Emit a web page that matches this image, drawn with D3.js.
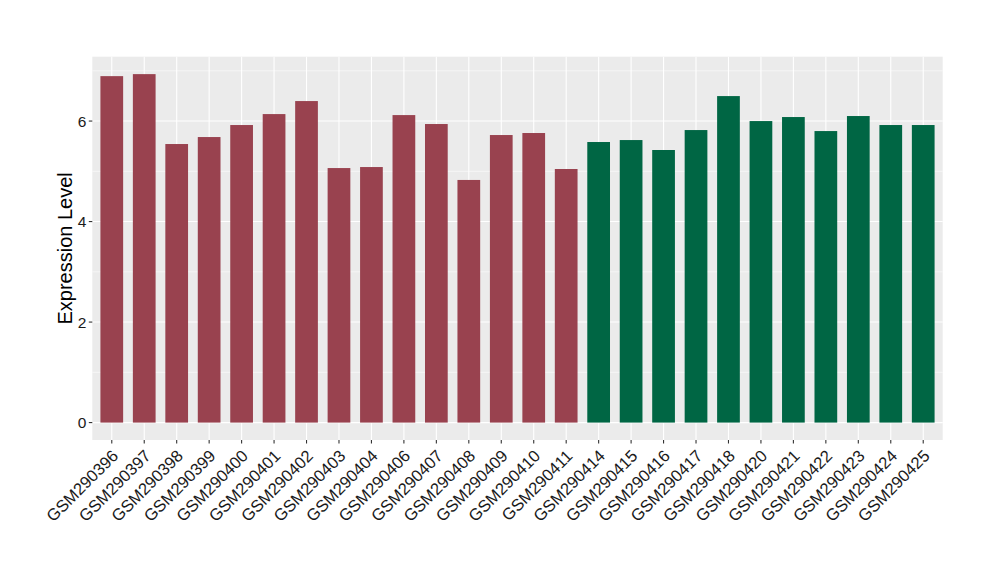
<!DOCTYPE html>
<html><head><meta charset="utf-8">
<script src="https://cdn.jsdelivr.net/npm/d3@7"></script>
<style>body{margin:0;background:#fff;} text{font-family:"Liberation Sans",Arial,sans-serif;}</style>
</head><body>
<svg id="c" width="1000" height="580"></svg>
<script>
const samples = ["GSM290396","GSM290397","GSM290398","GSM290399","GSM290400","GSM290401","GSM290402","GSM290403","GSM290404","GSM290406","GSM290407","GSM290408","GSM290409","GSM290410","GSM290411","GSM290414","GSM290415","GSM290416","GSM290417","GSM290418","GSM290420","GSM290421","GSM290422","GSM290423","GSM290424","GSM290425"];
const values = [6.894,6.934,5.543,5.682,5.921,6.139,6.398,5.065,5.085,6.119,5.941,4.828,5.722,5.762,5.046,5.583,5.622,5.424,5.821,6.497,6.000,6.080,5.801,6.100,5.921,5.921];
const groups = ["A","A","A","A","A","A","A","A","A","A","A","A","A","A","A","B","B","B","B","B","B","B","B","B","B","B"];
const groupColors = {A:"#99424F", B:"#006644"};
const yTicks = [0,2,4,6];
const yMinor = [1,3,5,7];

const svg = d3.select("#c");
const L = 92.3, R = 942.7, T = 56.7, B = 440;
const maxV = d3.max(values);
const y = d3.scaleLinear().domain([-0.05*maxV, maxV*1.05]).range([B, T]);
const n = samples.length;
const x = d3.scaleLinear().domain([0.4, n+0.6]).range([L, R]);
const xc = i => x(i+1);

svg.append("rect").attr("x",L).attr("y",T).attr("width",R-L).attr("height",B-T).attr("fill","#EBEBEB");
const g = svg.append("g");
g.selectAll(".ymin").data(yMinor).join("line")
  .attr("x1",L).attr("x2",R).attr("y1",d=>y(d)).attr("y2",d=>y(d))
  .attr("stroke","#fff").attr("stroke-width",0.55);
g.selectAll(".ymaj").data(yTicks).join("line")
  .attr("x1",L).attr("x2",R).attr("y1",d=>y(d)).attr("y2",d=>y(d))
  .attr("stroke","#fff").attr("stroke-width",1.1);
g.selectAll(".xmaj").data(samples).join("line")
  .attr("x1",(d,i)=>xc(i)).attr("x2",(d,i)=>xc(i)).attr("y1",T).attr("y2",B)
  .attr("stroke","#fff").attr("stroke-width",1.1);

const bw = 0.7*(x(2)-x(1));
svg.selectAll(".bar").data(values).join("rect")
  .attr("x",(d,i)=>xc(i)-bw/2).attr("width",bw)
  .attr("y",d=>y(d)).attr("height",d=>y(0)-y(d))
  .attr("fill",(d,i)=>groupColors[groups[i]]);

// y axis
const ya = svg.append("g");
ya.selectAll("line").data(yTicks).join("line")
  .attr("x1",L-3.5).attr("x2",L).attr("y1",d=>y(d)).attr("y2",d=>y(d))
  .attr("stroke","#333").attr("stroke-width",1.1);
ya.selectAll("text").data(yTicks).join("text")
  .attr("x",L-6).attr("y",d=>y(d)).attr("dy","0.36em")
  .attr("text-anchor","end").attr("font-size",15.5).attr("fill","#1a1a1a").text(d=>d);

// x axis
const xa = svg.append("g");
xa.selectAll("line").data(samples).join("line")
  .attr("x1",(d,i)=>xc(i)).attr("x2",(d,i)=>xc(i)).attr("y1",B).attr("y2",B+3.5)
  .attr("stroke","#333").attr("stroke-width",1.1);
xa.selectAll("text").data(samples).join("text")
  .attr("transform",(d,i)=>`translate(${xc(i)-1},${B+8.5}) rotate(-45)`)
  .attr("text-anchor","end").attr("dy","0.72em")
  .attr("font-size",16.6).attr("fill","#1a1a1a").text(d=>d);

svg.append("text").attr("transform",`translate(72,${(T+B)/2}) rotate(-90)`)
  .attr("text-anchor","middle").attr("font-size",20).attr("fill","#000").text("Expression Level");
</script>
</body></html>
